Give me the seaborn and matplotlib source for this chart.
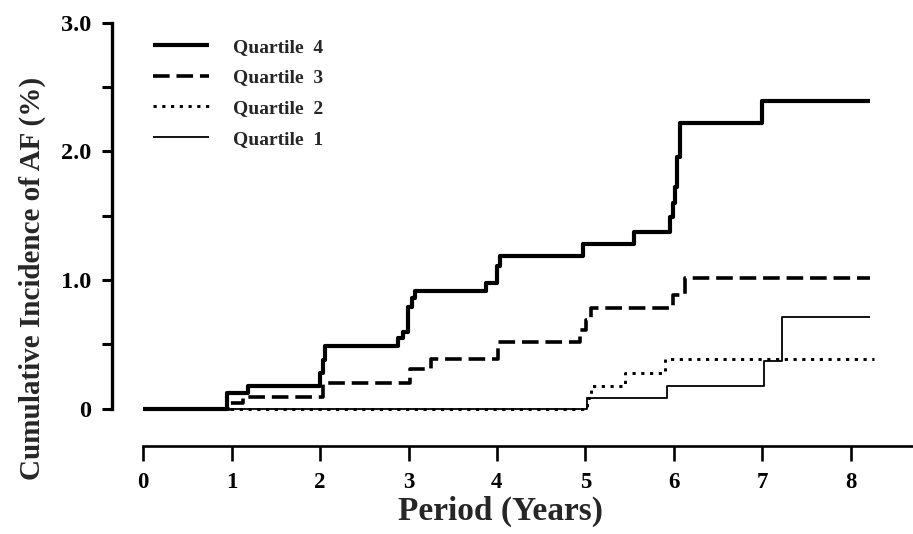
import numpy as np
import pandas as pd
import matplotlib
matplotlib.use("Agg")
import matplotlib.pyplot as plt
import seaborn as sns

# ---- data (step-post event times in years, cumulative incidence in %) ----
q4_t = [0, 0.95, 1.19, 2.00, 2.03, 2.06, 2.88, 2.94, 2.99, 3.04, 3.07, 3.88, 4.00, 4.04,
        4.97, 5.55, 5.96, 5.99, 6.01, 6.04, 6.07, 7.00, 8.22]
q4_v = [0, 0.12, 0.175, 0.28, 0.38, 0.49, 0.55, 0.60, 0.79, 0.86, 0.915, 0.98, 1.11, 1.19,
        1.28, 1.375, 1.49, 1.60, 1.72, 1.96, 2.22, 2.39, 2.39]
q3_t = [0, 0.98, 1.13, 2.03, 3.02, 3.25, 4.01, 4.94, 5.01, 5.07, 5.99, 6.13, 8.22]
q3_v = [0, 0.045, 0.09, 0.20, 0.31, 0.385, 0.52, 0.61, 0.69, 0.78, 0.88, 1.015, 1.015]
q2_t = [0, 5.02, 5.06, 5.45, 5.90, 8.27]
q2_v = [0, 0.08, 0.18, 0.28, 0.385, 0.385]
q1_t = [0, 5.02, 5.92, 7.02, 7.22, 8.22]
q1_v = [0, 0.085, 0.18, 0.37, 0.715, 0.715]

labels = ["Quartile  4", "Quartile  3", "Quartile  2", "Quartile  1"]
x_ticks = [0, 1, 2, 3, 4, 5, 6, 7, 8]
y_ticks = [0, 0.5, 1.0, 1.5, 2.0, 2.5, 3.0]
y_ticklabels = ["0", "", "1.0", "", "2.0", "", "3.0"]

sns.set_style("white")
plt.rcParams["font.family"] = ["Liberation Serif", "DejaVu Serif"]
plt.rcParams["font.weight"] = "bold"
plt.rcParams["axes.labelweight"] = "bold"

W, H = 913, 534
fig = plt.figure(figsize=(W / 100, H / 100), dpi=100)
fig.patch.set_facecolor("white")

# axes geometry (pixels)
x0_px, px_per_year = 143.3, 88.4
y0_px, px_per_unit = 408.7, 128.7
left_px, right_px = 111.7, 913.0
bottom_px, top_px = 446.0, 22.7
ax = fig.add_axes([left_px / W, (H - bottom_px) / H,
                   (right_px - left_px) / W, (bottom_px - top_px) / H])
ax.set_facecolor("white")

styles = {
    "q1": dict(linewidth=1.3, linestyle="-"),
    "q2": dict(linewidth=2.1, linestyle=(0, (1.1, 1.9))),
    "q3": dict(linewidth=2.6, linestyle=(0, (4.6, 1.9))),
    "q4": dict(linewidth=3.0, linestyle="-"),
}
series = {"q1": (q1_t, q1_v), "q2": (q2_t, q2_v), "q3": (q3_t, q3_v), "q4": (q4_t, q4_v)}
lines = {}
for key in ["q1", "q2", "q3", "q4"]:
    t, v = series[key]
    df = pd.DataFrame({"t": t, "v": v})
    n0 = len(ax.lines)
    sns.lineplot(data=df, x="t", y="v", ax=ax, color="black", drawstyle="steps-post",
                 estimator=None, sort=False, solid_capstyle="butt", dash_capstyle="butt",
                 **styles[key])
    lines[key] = ax.lines[n0]

# limits so that pixel geometry matches
ax.set_xlim((left_px - x0_px) / px_per_year, (right_px - x0_px) / px_per_year)
ax.set_ylim((y0_px - bottom_px) / px_per_unit, (y0_px - top_px) / px_per_unit)

for s in ["top", "right"]:
    ax.spines[s].set_visible(False)
ax.spines["left"].set_bounds(0, 3.0)
ax.spines["left"].set_linewidth(2.4)
ax.spines["bottom"].set_bounds(0, (right_px - x0_px) / px_per_year)
ax.spines["bottom"].set_linewidth(1.9)
ax.spines["left"].set_color("black")
ax.spines["bottom"].set_color("black")

ax.set_xticks(x_ticks)
ax.set_xticklabels([str(v) for v in x_ticks])
ax.set_yticks(y_ticks)
ax.set_yticklabels(y_ticklabels)
ax.tick_params(axis="y", left=True, direction="out", length=7.5, width=2.2, pad=7,
               labelsize=17.5, colors="black")
ax.tick_params(axis="x", bottom=True, direction="out", length=11, width=1.9, pad=8,
               labelsize=16.5, colors="black")
for lab in ax.get_xticklabels() + ax.get_yticklabels():
    lab.set_fontweight("bold")

ax.set_xlabel("Period (Years)", fontsize=24, fontweight="bold")
ax.set_ylabel("Cumulative Incidence of AF (%)", fontsize=21, fontweight="bold")
ax.xaxis.set_label_coords(500 / W, (H - 496) / H, transform=fig.transFigure)
ax.yaxis.set_label_coords(46 / W, (H - 278) / H, transform=fig.transFigure)

leg = ax.legend([lines["q4"], lines["q3"], lines["q2"], lines["q1"]], labels,
                loc="upper left", bbox_to_anchor=(153 / W, (H - 38) / H),
                bbox_transform=fig.transFigure, frameon=False, fontsize=14,
                handlelength=2.9, handletextpad=1.2, labelspacing=0.68, borderpad=0,
                borderaxespad=0)
for txt in leg.get_texts():
    txt.set_fontweight("bold")

fig.savefig("out.png", dpi=100, facecolor="white")
